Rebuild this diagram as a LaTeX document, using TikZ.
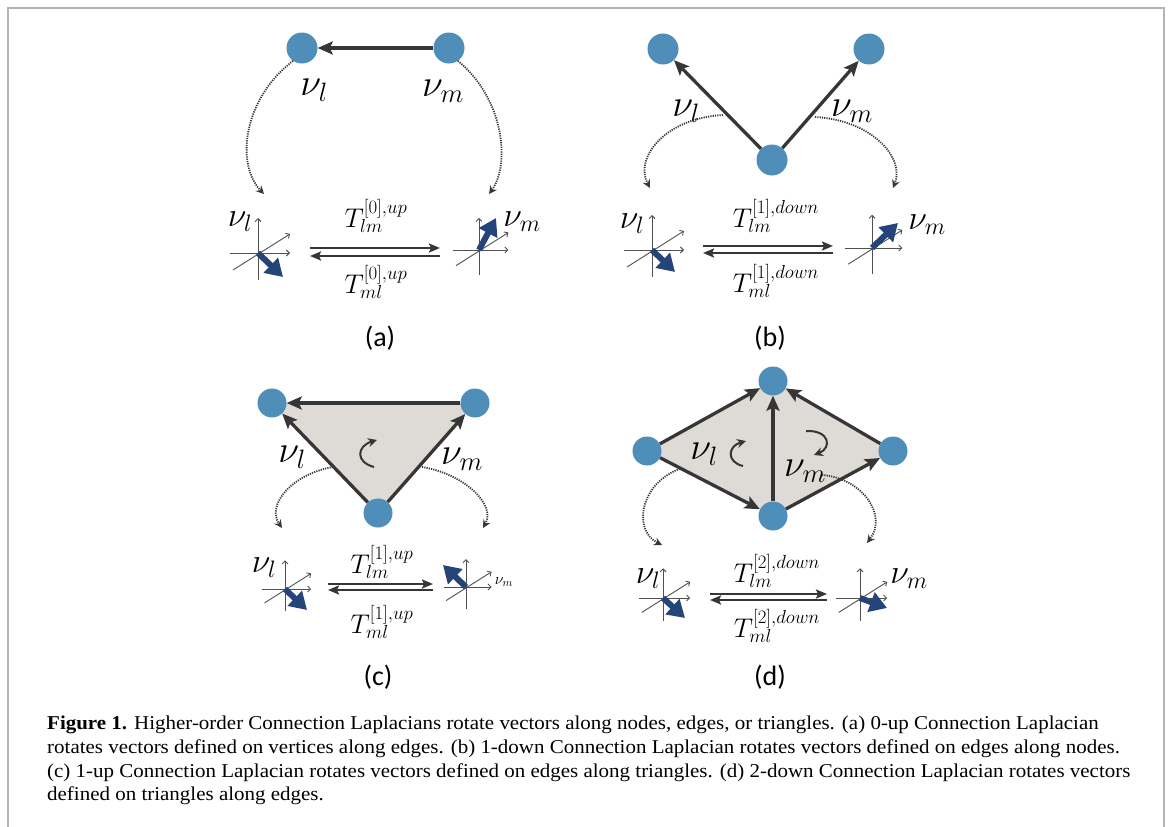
\RequirePackage{fix-cm}
\documentclass[tikz,border=0pt]{standalone}
\usepackage{fontspec}
\usetikzlibrary{arrows.meta,calc}
\newfontfamily\capfont[FakeStretch=1.07]{Liberation Serif}
\newfontfamily\labfont{Carlito}
\newcommand\Nu{\nu}
\definecolor{nodeblue}{HTML}{4F8EB9}
\definecolor{edgegray}{HTML}{363636}
\definecolor{vecblue}{HTML}{25457A}
\definecolor{trifill}{HTML}{DEDAD5}
\definecolor{framegray}{HTML}{B4B4B4}
\definecolor{axisgray}{HTML}{505050}
\definecolor{dotgray}{HTML}{383838}
\tikzset{
  vert/.style={circle, fill=nodeblue, minimum size=31pt, inner sep=0pt},
  vsm/.style={vert, minimum size=29pt},
  edge/.style={line width=3.3pt, draw=edgegray, -{Stealth[length=15pt,width=13pt,inset=3pt]}},
  dbl/.style={line width=2.9pt, draw=edgegray, -{Stealth[length=11pt,width=9pt,inset=2pt]}},
  axisline/.style={line width=0.9pt, draw=axisgray, -{Straight Barb[length=3pt,width=6pt]}},
  bluevec/.style={line width=6pt, draw=vecblue, -{Triangle[length=17pt,width=20pt]}},
  dotarrow/.style={line width=1.8pt, draw=dotgray, dash pattern=on 1.2pt off 1.1pt, -{Stealth[length=8pt,width=8pt]}},
  curl/.style={line width=2pt, draw=edgegray, -{Stealth[length=9pt,width=9pt]}},
  nu/.style={font=\fontsize{38}{38}\selectfont, inner sep=0pt},
  nub/.style={font=\fontsize{34}{34}\selectfont, inner sep=0pt},
  tlab/.style={font=\fontsize{27}{29}\selectfont, inner sep=0pt},
  panel/.style={font=\labfont\fontsize{28}{30}\selectfont, inner sep=0pt},
  capline/.style={font=\capfont\fontsize{19.6}{23}\selectfont, inner sep=0pt, anchor=base west},
}
\newcommand\VAxes[4]{%
  \begin{scope}[shift={(#1)},scale=#2]
    \draw[axisline] (0,27) -- (0,-35);
    \draw[axisline] (-28,0) -- (32,0);
    \draw[axisline] (-25,17) -- (32,-19);
  \end{scope}
  \draw[bluevec] (#1) -- ++(#3,#4);
}
\begin{document}
\begin{tikzpicture}[x=1pt,y=-1pt]
\path[use as bounding box] (0,0) rectangle (1168,827);
\draw[framegray, line width=1.5pt] (8,827) -- (8,8) -- (1164,8) -- (1164,827);

% ---------------- panel (a)
\node[vert] (a1) at (302,48) {};
\node[vert] (a2) at (449,48) {};
\draw[edge] (a2) -- (a1);
\node[nu] (la1) at (314,90) {$\Nu_l$};
\node[nu] (la2) at (443,91) {$\Nu_m$};
\coordinate (oa1) at (258,253);
\coordinate (oa2) at (479,250);
\coordinate (ea1) at (264,194);
\coordinate (ea2) at (489,194);
\draw[dotarrow] (a1.235) .. controls (242,100) and (236,165) .. (ea1);
\draw[dotarrow] (a2.-55) .. controls (505,100) and (510,165) .. (ea2);
\VAxes{oa1}{1}{25}{24}
\VAxes{oa2}{0.92}{17}{-32}
\node[nub] (lb1) at (240,222) {$\Nu_l$};
\node[nub] (lb2) at (522,222) {$\Nu_m$};
\coordinate (pa1) at (310,248); \coordinate (pa2) at (440,248);
\coordinate (qa1) at (310,256); \coordinate (qa2) at (440,256);
\draw[dbl] (pa1) -- (pa2);
\draw[dbl] (qa2) -- (qa1);
\node[tlab] (ta1) at (376,216) {$T^{[0],up}_{lm}$};
\node[tlab] (ta2) at (376,282) {$T^{[0],up}_{ml}$};
\node[panel] (pla) at (380,338) {(a)};

% ---------------- panel (b)
\node[vert] (b1) at (663,49) {};
\node[vert] (b2) at (869,49) {};
\node[vert] (b3) at (772,160) {};
\draw[edge] (b3) -- (b1);
\draw[edge] (b3) -- (b2);
\node[nu] (lc1) at (686,111) {$\Nu_l$};
\node[nu] (lc2) at (852,111) {$\Nu_m$};
\coordinate (sb1) at (723,115);
\coordinate (sb2) at (815,117);
\coordinate (eb1) at (650,188);
\coordinate (eb2) at (893,188);
\draw[dotarrow] (sb1) .. controls (665,118) and (634,158) .. (eb1);
\draw[dotarrow] (sb2) .. controls (872,120) and (905,158) .. (eb2);
\coordinate (ob1) at (652,250);
\coordinate (ob2) at (872,248);
\VAxes{ob1}{1}{23}{22}
\VAxes{ob2}{0.95}{26}{-25}
\node[nub] (ld1) at (632,224) {$\Nu_l$};
\node[nub] (ld2) at (927,225) {$\Nu_m$};
\coordinate (pb1) at (703,246); \coordinate (pb2) at (833,246);
\coordinate (qb1) at (703,253); \coordinate (qb2) at (833,253);
\draw[dbl] (pb1) -- (pb2);
\draw[dbl] (qb2) -- (qb1);
\node[tlab] (tb1) at (776,216) {$T^{[1],down}_{lm}$};
\node[tlab] (tb2) at (776,281) {$T^{[1],down}_{ml}$};
\node[panel] (plb) at (770,338) {(b)};

% ---------------- panel (c)
\fill[trifill] (272,403) -- (475,403) -- (378,513) -- cycle;
\node[vsm] (c1) at (272,403) {};
\node[vsm] (c2) at (475,403) {};
\node[vsm] (c3) at (378,513) {};
\draw[edge] (c2) -- (c1);
\draw[edge] (c3) -- (c1);
\draw[edge] (c3) -- (c2);
\draw[curl] (374,467) .. controls (355,462) and (357,446) .. (377,440);
\node[nu] (le1) at (292,457) {$\Nu_l$};
\node[nu] (le2) at (462,459) {$\Nu_m$};
\coordinate (sc1) at (333,467);
\coordinate (sc2) at (422,467);
\coordinate (ec1) at (282,528);
\coordinate (ec2) at (483,528);
\draw[dotarrow] (sc1) .. controls (292,474) and (266,505) .. (ec1);
\draw[dotarrow] (sc2) .. controls (465,474) and (496,505) .. (ec2);
\coordinate (oc1) at (285,589);
\coordinate (oc2) at (466,587);
\VAxes{oc1}{0.82}{22}{21}
\VAxes{oc2}{0.8}{-23}{-22}
\node[nub] (lf1) at (264,568) {$\Nu_l$};
\node[font=\fontsize{16}{16}\selectfont, inner sep=0pt] (lf2) at (504,582) {$\nu_m$};
\coordinate (pc1) at (328,584); \coordinate (pc2) at (433,584);
\coordinate (qc1) at (328,590); \coordinate (qc2) at (433,590);
\draw[dbl] (pc1) -- (pc2);
\draw[dbl] (qc2) -- (qc1);
\node[tlab] (tc1) at (382,562) {$T^{[1],up}_{lm}$};
\node[tlab] (tc2) at (382,622) {$T^{[1],up}_{ml}$};
\node[panel] (plc) at (378,677) {(c)};

% ---------------- panel (d)
\fill[trifill] (773,381) -- (893,451) -- (773,516) -- (647,451) -- cycle;
\node[vsm] (d1) at (773,381) {};
\node[vsm] (d2) at (647,451) {};
\node[vsm] (d3) at (893,451) {};
\node[vsm] (d4) at (773,516) {};
\draw[edge] (d2) -- (d1);
\draw[edge] (d2) -- (d4);
\draw[edge] (d4) -- (d1);
\draw[edge] (d3) -- (d1);
\draw[edge] (d4) -- (d3);
\draw[curl] (743,466) .. controls (726,462) and (728,446) .. (746,441);
\draw[curl] (806,431) .. controls (830,430) and (832,448) .. (814,455);
\node[nu] (lg1) at (704,454) {$\Nu_l$};
\node[nu] (lg2) at (805,471) {$\Nu_m$};
\coordinate (sd1) at (682,468);
\coordinate (sd2) at (822,475);
\coordinate (ed1) at (662,545);
\coordinate (ed2) at (867,543);
\draw[dotarrow] (sd1) .. controls (640,482) and (632,530) .. (ed1);
\draw[dotarrow] (sd2) .. controls (862,478) and (888,515) .. (ed2);
\coordinate (od1) at (663,598);
\coordinate (od2) at (860,598);
\VAxes{od1}{0.85}{22}{20}
\VAxes{od2}{0.85}{27}{10}
\node[nub] (lh1) at (648,579) {$\Nu_l$};
\node[nub] (lh2) at (909,579) {$\Nu_m$};
\coordinate (pd1) at (710,594); \coordinate (pd2) at (827,594);
\coordinate (qd1) at (710,600); \coordinate (qd2) at (827,600);
\draw[dbl] (pd1) -- (pd2);
\draw[dbl] (qd2) -- (qd1);
\node[tlab] (td1) at (777,571) {$T^{[2],down}_{lm}$};
\node[tlab] (td2) at (777,626) {$T^{[2],down}_{ml}$};
\node[panel] (pld) at (770,677) {(d)};

% ---------------- caption
\node[capline] (cap1) at (47,729) {\textbf{Figure 1.} Higher-order Connection Laplacians rotate vectors along nodes, edges, or triangles. (a) 0-up Connection Laplacian};
\node[capline] (cap2) at (47,753) {rotates vectors defined on vertices along edges. (b) 1-down Connection Laplacian rotates vectors defined on edges along nodes.};
\node[capline] (cap3) at (47,777) {(c) 1-up Connection Laplacian rotates vectors defined on edges along triangles. (d) 2-down Connection Laplacian rotates vectors};
\node[capline] (cap4) at (47,800) {defined on triangles along edges.};
\end{tikzpicture}
\end{document}
